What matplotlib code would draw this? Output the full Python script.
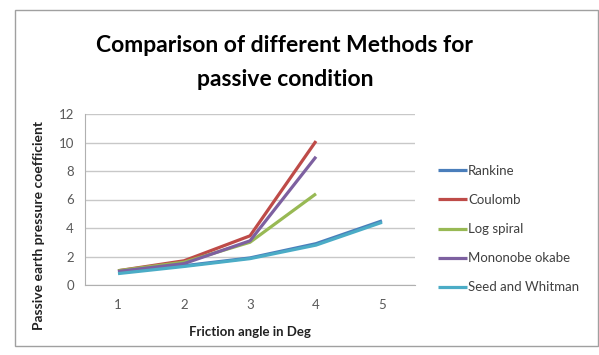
import matplotlib
matplotlib.use("Agg")
import matplotlib.pyplot as plt
from matplotlib.patches import Rectangle

# friction angle categories and coefficient values per method
categories = ["1", "2", "3", "4", "5"]
rankine = [0.9, 1.35, 1.9, 2.9, 4.5]
coulomb = [1.0, 1.7, 3.45, 10.1]
log_spiral = [1.0, 1.6, 3.0, 6.4]
mononobe = [0.95, 1.5, 3.1, 9.0]
seed_whitman = [0.8, 1.3, 1.85, 2.8, 4.4]

series = [
    ("Rankine", rankine, "#4A7EBB"),
    ("Coulomb", coulomb, "#BE4B48"),
    ("Log spiral", log_spiral, "#98B954"),
    ("Mononobe okabe", mononobe, "#7D60A0"),
    ("Seed and Whitman", seed_whitman, "#4BACC6"),
]

plt.rcParams['font.family'] = ['Lato', 'DejaVu Sans']

fig = plt.figure(figsize=(5.99, 3.55), dpi=100)
W, H = 599, 355

# outer chart frame
fig.patches.append(Rectangle((15 / W, 1 - 346 / H), 583 / W, 336 / H,
                             transform=fig.transFigure, fill=False,
                             edgecolor='#A0A0A0', linewidth=1.0))

ax = fig.add_axes([85 / W, 1 - 285 / H, 330 / W, 171 / H])

x = list(range(len(categories)))
for name, vals, color in series:
    ax.plot(x[:len(vals)], vals, color=color, linewidth=2.3, label=name,
            solid_capstyle='butt')

ax.set_xlim(-0.5, len(categories) - 0.5)
ax.set_ylim(0, 12)
ax.set_yticks(range(0, 13, 2))
ax.set_xticks(x)
ax.set_xticklabels(categories)
ax.grid(axis='y', color='#C8C8C8', linewidth=1.0)
ax.set_axisbelow(True)
for side in ['top', 'right']:
    ax.spines[side].set_visible(False)
for side in ['left', 'bottom']:
    ax.spines[side].set_color('#B0B0B0')
ax.tick_params(length=0, labelsize=9.5, colors='#595959', pad=10)
ax.tick_params(axis='y', pad=8)

fig.text(285 / W, 1 - 45 / H, "Comparison of different Methods for",
         ha='center', va='center', fontsize=16.5, fontweight='bold')
fig.text(285 / W, 1 - 79 / H, "passive condition",
         ha='center', va='center', fontsize=16.5, fontweight='bold')

fig.text(250 / W, 1 - 332 / H, "Friction angle in Deg", ha='center',
         va='center', fontsize=9.5, fontweight='bold', color='#222222')
fig.text(39 / W, 1 - 225 / H, "Passive earth pressure coefficient",
         ha='center', va='center', rotation=90, fontsize=10,
         fontweight='bold', color='#222222')

ax.legend(loc='upper left', bbox_to_anchor=(426 / W, 1 - 153 / H),
          bbox_transform=fig.transFigure, frameon=False, fontsize=9.5,
          handlelength=2.2, handletextpad=0.1, labelspacing=1.3,
          labelcolor='#404040')

fig.savefig("out.png", dpi=100, facecolor='white')
